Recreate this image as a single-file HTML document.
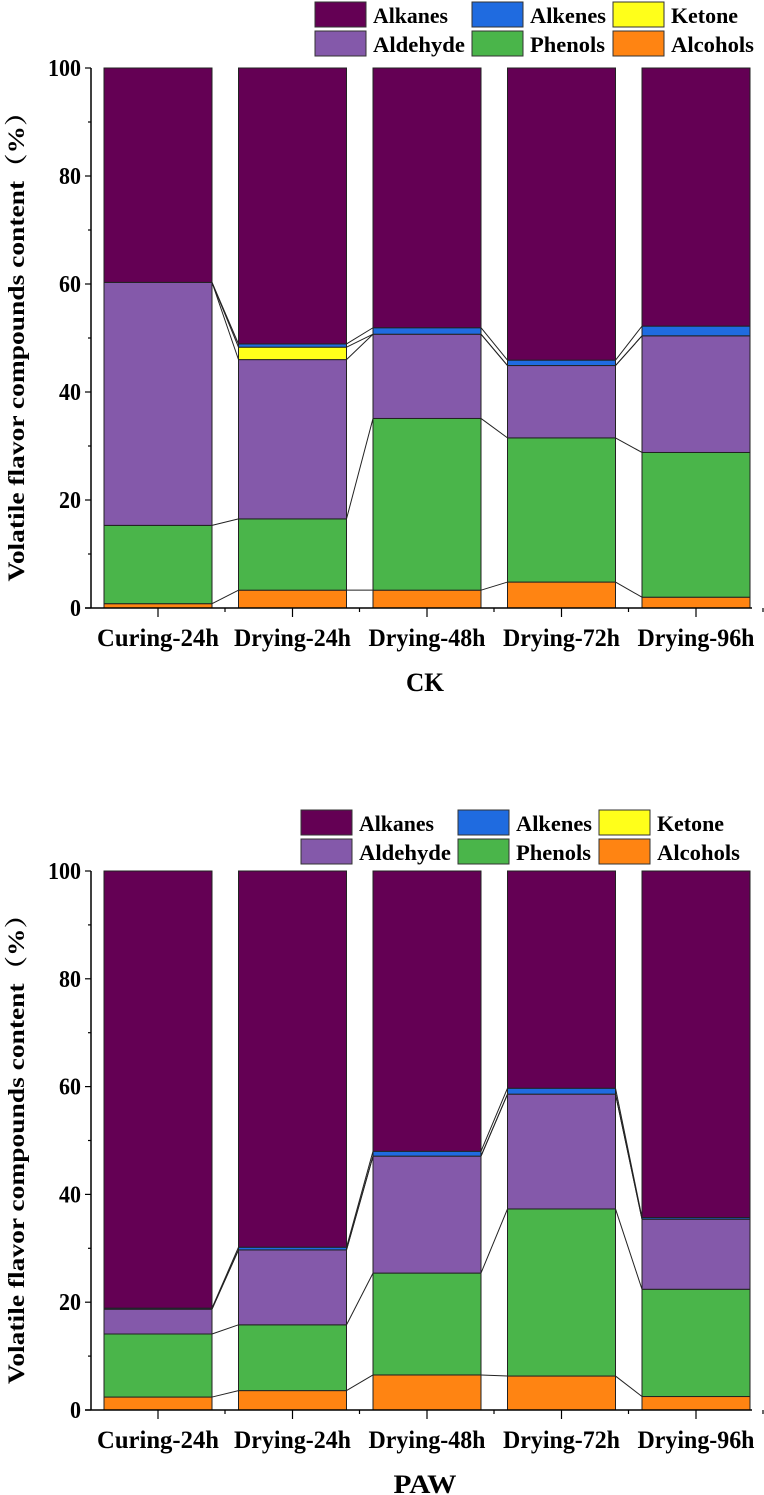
<!DOCTYPE html>
<html><head><meta charset="utf-8">
<style>
body{margin:0;background:#fff;}
svg{display:block;font-family:"Liberation Serif",serif;font-weight:bold;}
</style></head>
<body>
<svg id="c" width="764" height="1495" viewBox="0 0 764 1495" xmlns="http://www.w3.org/2000/svg"></svg>
<script>
const categories = ["Curing-24h","Drying-24h","Drying-48h","Drying-72h","Drying-96h"];
const seriesNames = ["Alcohols","Phenols","Aldehyde","Ketone","Alkenes","Alkanes"];
const seriesColors = ["#ff8412","#4ab54a","#8459aa","#ffff1a","#1f6be0","#640054"];
// CK values (bottom to top)
const ckAlcohols = [0.8,3.3,3.3,4.8,2.0];
const ckPhenols  = [14.5,13.2,31.8,26.7,26.8];
const ckAldehyde = [45.0,29.5,15.6,13.4,21.6];
const ckKetone   = [0,2.3,0,0,0];
const ckAlkenes  = [0,0.6,1.2,1.0,1.8];
const ckAlkanes  = [39.7,51.1,48.1,54.1,47.8];
// PAW values
const pawAlcohols = [2.4,3.6,6.5,6.3,2.5];
const pawPhenols  = [11.7,12.2,18.9,31.0,19.9];
const pawAldehyde = [4.6,13.9,21.7,21.3,13.0];
const pawKetone   = [0,0,0,0,0];
const pawAlkenes  = [0.2,0.5,0.9,1.1,0.3];
const pawAlkanes  = [81.1,69.8,52.0,40.3,64.3];
const yTicks = [0,20,40,60,80,100];

const NS="http://www.w3.org/2000/svg";
const svg=document.getElementById('c');
function mk(tag,attrs,parent){const e=document.createElementNS(NS,tag);for(const k in attrs)e.setAttribute(k,attrs[k]);(parent||svg).appendChild(e);return e;}
const legendLen={Alkanes:75,Alkenes:76,Ketone:67,Aldehyde:92,Phenols:75,Alcohols:83};

function drawChart(prefix,y0,y100,series,legendX,legendY,xTitle,xTitleLen){
  const g=mk('g',{});
  
  
  const yS=v=>y0-(y0-y100)*v/100;
  const axX=91, x0=104, pitch=134.5, bw=108;
  const xS=i=>x0+i*pitch;
  const cum=categories.map(()=>0);
  const tops=[];
  series.forEach((arr,s)=>{
    const lvl=[];
    arr.forEach((v,i)=>{
      const b=cum[i], t=b+v;
      if(v>0){
        const r=mk('rect',{x:xS(i),y:yS(t),width:bw,height:yS(b)-yS(t),fill:seriesColors[s],stroke:'#222','stroke-width':1},g);
        
        
      }
      cum[i]=t; lvl.push(t);
    });
    tops.push(lvl);
  });
  tops.forEach((lvl,s)=>{
    if(s===tops.length-1)return;
    for(let i=0;i<lvl.length-1;i++){
      const l=mk('line',{x1:xS(i)+bw,y1:yS(lvl[i]),x2:xS(i+1),y2:yS(lvl[i+1]),stroke:'#222','stroke-width':1},g);
      
      
    }
  });
  const ya=mk('line',{x1:axX,y1:y0,x2:axX,y2:y100,stroke:'#000','stroke-width':1.5},g);
  
  
  const xa=mk('line',{x1:axX-6,y1:y0,x2:752,y2:y0,stroke:'#000','stroke-width':1.5},g);
  
  
  for(let v=0;v<=100;v+=10){
    mk('line',{x1:axX-(v%20===0?6:3),y1:yS(v),x2:axX,y2:yS(v),stroke:'#000','stroke-width':1.2},g);
  }
  yTicks.forEach(v=>{
    const t=mk('text',{x:axX-10,y:yS(v)+8,'text-anchor':'end','font-size':24},g);
    t.textContent=v;
    t.setAttribute('textLength',String(v).length*11);
    t.setAttribute('lengthAdjust','spacingAndGlyphs');
    
    
  });
  categories.forEach((c,i)=>{
    const cx=xS(i)+bw/2;
    mk('line',{x1:cx,y1:y0,x2:cx,y2:y0+9,stroke:'#000','stroke-width':1.2},g);
    mk('line',{x1:cx+67,y1:y0,x2:cx+67,y2:y0+4,stroke:'#000','stroke-width':1.2},g);
    const t=mk('text',{x:cx,y:y0+38,'text-anchor':'middle','font-size':25},g);
    t.textContent=c;
    t.setAttribute('textLength',i===0?122:117);
    t.setAttribute('lengthAdjust','spacingAndGlyphs');
    
    
  });
  const yt=mk('text',{x:0,y:0,'text-anchor':'middle','font-size':23,transform:`translate(24,${(y0+y100)/2+2}) rotate(-90)`},g);
  yt.textContent='Volatile flavor compounds content（%）';
  yt.setAttribute('textLength',483);
  yt.setAttribute('lengthAdjust','spacingAndGlyphs');
  yt.setAttribute('font-family','"Liberation Serif","Noto Serif CJK SC",serif');
  
  
  const xt=mk('text',{x:425,y:y0+83,'text-anchor':'middle','font-size':26},g);
  xt.textContent=xTitle;
  xt.setAttribute('textLength',xTitleLen);
  xt.setAttribute('lengthAdjust','spacingAndGlyphs');
  
  
  const order=[[5,4,3],[2,1,0]];
  const colX=[0,157,298];
  order.forEach((row,r)=>row.forEach((s,c)=>{
    const lx=legendX+colX[c], ly=legendY+r*29;
    const b=mk('rect',{x:lx,y:ly,width:51,height:25,fill:seriesColors[s],stroke:'#333','stroke-width':1},g);
    
    
    const t=mk('text',{x:lx+58,y:ly+21,'font-size':22},g);
    t.textContent=seriesNames[s];
    t.setAttribute('textLength',legendLen[seriesNames[s]]);
    t.setAttribute('lengthAdjust','spacingAndGlyphs');
    
    
  }));
}
drawChart('ck',608,68,[ckAlcohols,ckPhenols,ckAldehyde,ckKetone,ckAlkenes,ckAlkanes],315,2,'CK',38);
drawChart('paw',1410,871,[pawAlcohols,pawPhenols,pawAldehyde,pawKetone,pawAlkenes,pawAlkanes],301,810,'PAW',63);
</script>
</body></html>
